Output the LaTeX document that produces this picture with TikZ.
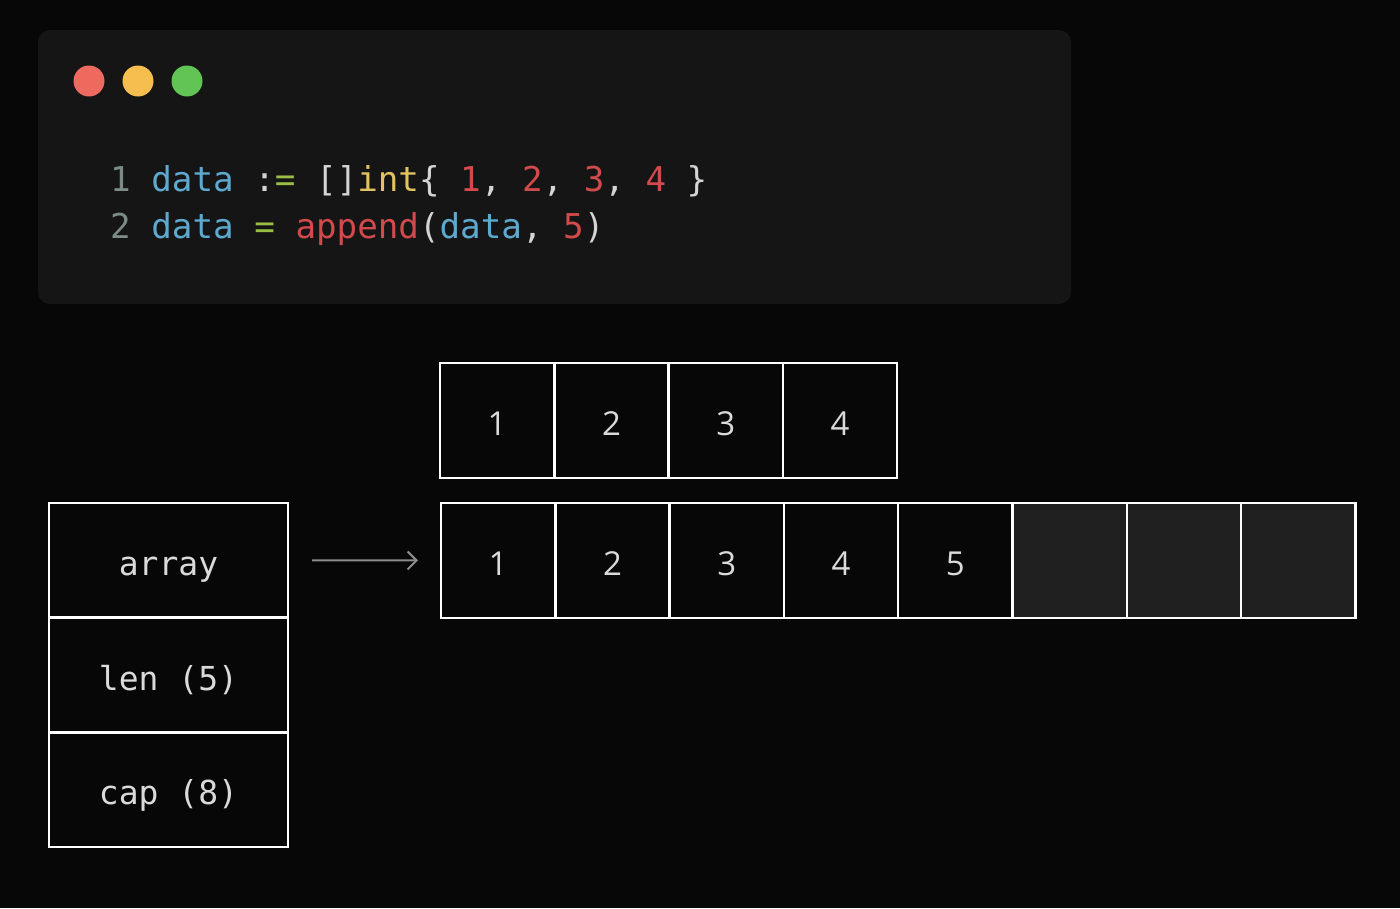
\documentclass[tikz,border=0pt]{standalone}
\usepackage{fontspec}
\setmonofont{DejaVu Sans Mono}
\newfontfamily\cellfont{Open Sans}
\usetikzlibrary{arrows.meta,positioning}
\definecolor{pagebg}{HTML}{070707}
\definecolor{winbg}{HTML}{151515}
\definecolor{dotred}{HTML}{EE6A5F}
\definecolor{dotyellow}{HTML}{F5BE4F}
\definecolor{dotgreen}{HTML}{61C454}
\definecolor{lnum}{HTML}{7D8B87}
\definecolor{ident}{HTML}{5EA9CF}
\definecolor{oper}{HTML}{9BBF45}
\definecolor{punc}{HTML}{D4D4D4}
\definecolor{kwtype}{HTML}{E2C35F}
\definecolor{lit}{HTML}{D24A4C}
\definecolor{celltext}{HTML}{DADADA}
\definecolor{sparefill}{HTML}{202020}
\definecolor{arrowgray}{HTML}{8C8C8C}
\newcommand{\ck}[2]{\textcolor{#1}{#2}}

\begin{document}
\begin{tikzpicture}[x=1pt,y=-1pt,
 cell/.style={draw=white,line width=2.5pt,fill=pagebg,outer sep=0pt,inner sep=0pt,minimum width=114.3pt,minimum height=115pt,text height=29pt,text depth=0pt,text=celltext,font=\cellfont\fontsize{33}{40}\selectfont},
 field/.style={cell,minimum width=239pt,minimum height=114.7pt,text height=36pt,text depth=6pt,font=\ttfamily\fontsize{33}{40}\selectfont},
 sparecell/.style={cell,fill=sparefill},
 light/.style={circle,minimum size=31pt,inner sep=0pt},
 code/.style={anchor=base west,inner sep=0pt,font=\ttfamily\fontsize{34.2}{40}\selectfont},
 >={Straight Barb[length=9pt,width=18pt]}]
\useasboundingbox (0,0) rectangle (1400,908);
\fill[pagebg] (0,0) rectangle (1400,908);
% code window
\fill[winbg,rounded corners=12pt] (38,30) rectangle (1071,304);
\node[light,fill=dotred] (red) at (89,81) {};
\node[light,fill=dotyellow] (yellow) at (138,81) {};
\node[light,fill=dotgreen] (green) at (187,81) {};
\node[code] (line1) at (110,191) {\ck{lnum}{1} \ck{ident}{data} \ck{punc}{:}\ck{oper}{=} \ck{punc}{[]}\ck{kwtype}{int}\ck{punc}{\{} \ck{lit}{1}\ck{punc}{,} \ck{lit}{2}\ck{punc}{,} \ck{lit}{3}\ck{punc}{,} \ck{lit}{4} \ck{punc}{\}}};
\node[code] (line2) at (110,238) {\ck{lnum}{2} \ck{ident}{data} \ck{oper}{=} \ck{lit}{append}\ck{punc}{(}\ck{ident}{data}\ck{punc}{,} \ck{lit}{5}\ck{punc}{)}};
% slice header
\node[field,anchor=north west] (arr) at (49,503) {array};
\node[field,below=0pt of arr] (len) {len (5)};
\node[field,below=0pt of len] (cap) {cap (8)};
% old backing array
\node[cell,anchor=north west] (t1) at (440,363) {1};
\node[cell,right=0pt of t1] (t2) {2};
\node[cell,right=0pt of t2] (t3) {3};
\node[cell,right=0pt of t3] (t4) {4};
% new backing array
\node[cell,anchor=north west] (b1) at (441,503) {1};
\node[cell,right=0pt of b1] (b2) {2};
\node[cell,right=0pt of b2] (b3) {3};
\node[cell,right=0pt of b3] (b4) {4};
\node[cell,right=0pt of b4] (b5) {5};
\node[sparecell,right=0pt of b5] (b6) {};
\node[sparecell,right=0pt of b6] (b7) {};
\node[sparecell,right=0pt of b7] (b8) {};
\draw[->,arrowgray,line width=2pt,shorten <=24pt,shorten >=23pt] (arr.east) -- (b1.west);
\end{tikzpicture}
\end{document}
